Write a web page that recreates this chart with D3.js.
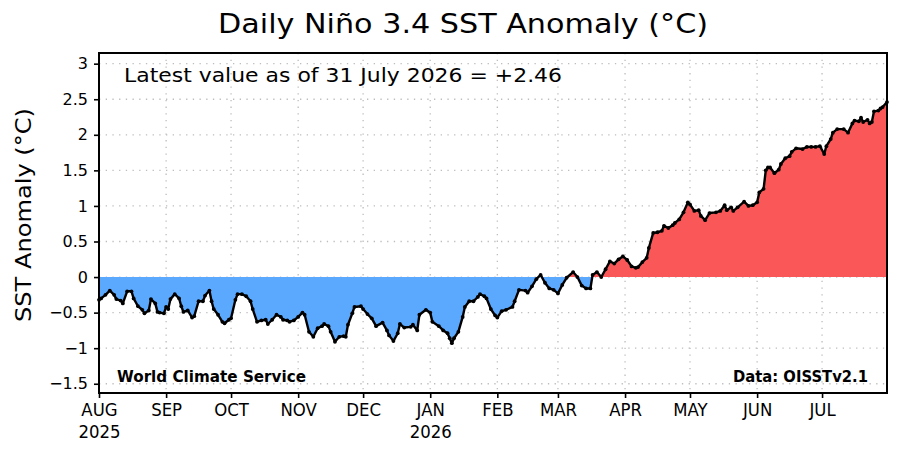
<!DOCTYPE html>
<html>
<head>
<meta charset="utf-8">
<script src="https://cdn.jsdelivr.net/npm/d3@7"></script>
<style>
  body { margin: 0; background: #fff; }
  text { font-family: "DejaVu Sans", sans-serif; fill: #000; }
</style>
</head>
<body>
<div id="chart"></div>
<script>
// daily Nino 3.4 values (about every other day)
const dates = [
  "2025-08-01","2025-08-02","2025-08-04","2025-08-06","2025-08-08","2025-08-09","2025-08-11","2025-08-12",
  "2025-08-14","2025-08-16","2025-08-17","2025-08-19","2025-08-21","2025-08-22","2025-08-24","2025-08-25",
  "2025-08-27","2025-08-28","2025-08-29","2025-08-31","2025-09-01","2025-09-02","2025-09-03","2025-09-05",
  "2025-09-07","2025-09-08","2025-09-09","2025-09-11","2025-09-13","2025-09-14","2025-09-16","2025-09-18",
  "2025-09-19","2025-09-21","2025-09-22","2025-09-23","2025-09-25","2025-09-27","2025-09-28","2025-09-30",
  "2025-10-01","2025-10-03","2025-10-04","2025-10-06","2025-10-08","2025-10-10","2025-10-11","2025-10-13",
  "2025-10-15","2025-10-17","2025-10-18","2025-10-20","2025-10-22","2025-10-24","2025-10-25","2025-10-27",
  "2025-10-28","2025-10-30","2025-11-01","2025-11-03","2025-11-04","2025-11-06","2025-11-08","2025-11-10",
  "2025-11-12","2025-11-13","2025-11-15","2025-11-16","2025-11-18","2025-11-20","2025-11-22","2025-11-23",
  "2025-11-24","2025-11-26","2025-11-27","2025-11-30","2025-12-01","2025-12-03","2025-12-05","2025-12-07",
  "2025-12-10","2025-12-12","2025-12-13","2025-12-15","2025-12-17","2025-12-18","2025-12-20","2025-12-23",
  "2025-12-24","2025-12-26","2025-12-27","2025-12-30","2026-01-01","2026-01-02","2026-01-05","2026-01-07",
  "2026-01-09","2026-01-10","2026-01-11","2026-01-12","2026-01-14","2026-01-16","2026-01-17","2026-01-19",
  "2026-01-21","2026-01-23","2026-01-24","2026-01-26","2026-01-27","2026-01-29","2026-01-31","2026-02-01",
  "2026-02-03","2026-02-05","2026-02-08","2026-02-09","2026-02-11","2026-02-14","2026-02-15","2026-02-17",
  "2026-02-19","2026-02-21","2026-02-23","2026-02-25","2026-02-27","2026-03-01","2026-03-03","2026-03-05",
  "2026-03-08","2026-03-10","2026-03-12","2026-03-14","2026-03-16","2026-03-17","2026-03-19","2026-03-21",
  "2026-03-23","2026-03-25","2026-03-27","2026-03-29","2026-03-31","2026-04-02","2026-04-04","2026-04-06",
  "2026-04-07","2026-04-09","2026-04-11","2026-04-12","2026-04-14","2026-04-16","2026-04-18","2026-04-19",
  "2026-04-21","2026-04-23","2026-04-24","2026-04-26","2026-04-28","2026-04-30","2026-05-01","2026-05-03",
  "2026-05-05","2026-05-06","2026-05-08","2026-05-10","2026-05-13","2026-05-15","2026-05-17","2026-05-18",
  "2026-05-20","2026-05-21","2026-05-23","2026-05-26","2026-05-28","2026-05-30","2026-06-01","2026-06-02",
  "2026-06-04","2026-06-05","2026-06-06","2026-06-07","2026-06-09","2026-06-11","2026-06-12","2026-06-14",
  "2026-06-16","2026-06-17","2026-06-19","2026-06-22","2026-06-24","2026-06-26","2026-06-28","2026-06-30",
  "2026-07-02","2026-07-03","2026-07-05","2026-07-06","2026-07-08","2026-07-11","2026-07-13","2026-07-15",
  "2026-07-16","2026-07-18","2026-07-19","2026-07-20","2026-07-22","2026-07-23","2026-07-24","2026-07-25",
  "2026-07-27","2026-07-28","2026-07-29","2026-07-31"
];
const anomaly = [
  -0.32,-0.30,-0.25,-0.19,-0.25,-0.31,-0.33,-0.37,
  -0.20,-0.20,-0.30,-0.41,-0.46,-0.51,-0.47,-0.31,
  -0.37,-0.49,-0.50,-0.51,-0.42,-0.45,-0.31,-0.24,
  -0.30,-0.41,-0.49,-0.47,-0.57,-0.55,-0.34,-0.34,
  -0.26,-0.19,-0.34,-0.45,-0.53,-0.63,-0.65,-0.60,
  -0.58,-0.32,-0.24,-0.24,-0.27,-0.34,-0.45,-0.63,
  -0.61,-0.60,-0.66,-0.60,-0.53,-0.56,-0.60,-0.61,
  -0.63,-0.61,-0.56,-0.50,-0.53,-0.77,-0.84,-0.72,
  -0.69,-0.66,-0.69,-0.77,-0.91,-0.84,-0.83,-0.84,
  -0.67,-0.51,-0.42,-0.41,-0.45,-0.52,-0.58,-0.69,
  -0.64,-0.75,-0.82,-0.90,-0.79,-0.66,-0.71,-0.70,
  -0.67,-0.75,-0.53,-0.46,-0.50,-0.63,-0.69,-0.75,
  -0.79,-0.86,-0.93,-0.86,-0.77,-0.56,-0.42,-0.34,
  -0.34,-0.28,-0.24,-0.27,-0.30,-0.45,-0.54,-0.57,
  -0.48,-0.46,-0.42,-0.34,-0.18,-0.19,-0.22,-0.13,
  -0.03,0.03,-0.08,-0.16,-0.18,-0.23,-0.11,-0.01,
  0.07,0.00,-0.12,-0.16,-0.16,0.03,0.07,0.00,
  0.11,0.22,0.19,0.25,0.29,0.24,0.15,0.13,
  0.14,0.21,0.27,0.41,0.62,0.63,0.65,0.72,
  0.69,0.73,0.76,0.81,0.91,1.05,1.02,0.93,
  0.94,0.86,0.80,0.90,0.91,0.93,1.01,0.94,
  0.98,0.93,0.98,1.06,1.00,1.01,1.05,1.19,
  1.24,1.50,1.54,1.54,1.46,1.51,1.59,1.67,
  1.70,1.76,1.81,1.80,1.83,1.83,1.83,1.84,
  1.73,1.84,1.94,2.03,2.08,2.08,2.03,2.16,
  2.20,2.19,2.24,2.18,2.21,2.16,2.18,2.33,
  2.34,2.37,2.39,2.46
];

const monthTicks = ["2025-08-01","2025-09-01","2025-10-01","2025-11-01","2025-12-01","2026-01-01",
                    "2026-02-01","2026-03-01","2026-04-01","2026-05-01","2026-06-01","2026-07-01"];
const monthLabels = ["AUG","SEP","OCT","NOV","DEC","JAN","FEB","MAR","APR","MAY","JUN","JUL"];
const yearLabels = ["2025","","","","","2026","","","","","",""];
const yTicks = [-1.5, -1, -0.5, 0, 0.5, 1, 1.5, 2, 2.5, 3];

// set the dimensions and margins of the graph
let margin = { top: 53, right: 13, bottom: 57, left: 99 },
    width = 900 - margin.left - margin.right,
    height = 450 - margin.top - margin.bottom;

const parse = d3.utcParse("%Y-%m-%d");
const data = dates.map((d, i) => ({ date: parse(d), value: anomaly[i] }));

let svg = d3.select("#chart")
    .append("svg")
    .attr("width", 900)
    .attr("height", 450);

let g = svg.append("g")
    .attr("transform", "translate(" + margin.left + "," + margin.top + ")");

let x = d3.scaleUtc()
    .domain([parse("2025-08-01"), parse("2026-07-31")])
    .range([0, width]);

let y = d3.scaleLinear()
    .domain([-1.63, 3.15])
    .range([height, 0]);

// dotted grid
g.append("g")
    .selectAll("line")
    .data(yTicks)
    .enter()
    .append("line")
    .attr("x1", 0).attr("x2", width)
    .attr("y1", d => y(d)).attr("y2", d => y(d))
    .attr("stroke", "#bdbdbd")
    .attr("stroke-width", 1.3)
    .attr("stroke-dasharray", "1.3,5.4");

g.append("g")
    .selectAll("line")
    .data(monthTicks.slice(1))
    .enter()
    .append("line")
    .attr("x1", d => x(parse(d))).attr("x2", d => x(parse(d)))
    .attr("y1", 0).attr("y2", height)
    .attr("stroke", "#bdbdbd")
    .attr("stroke-width", 1.3)
    .attr("stroke-dasharray", "1.3,5.4");

// fills above / below zero, clipped at y(0)
let defs = svg.append("defs");
defs.append("clipPath").attr("id", "above")
    .append("rect").attr("x", 0).attr("y", 0).attr("width", width).attr("height", y(0));
defs.append("clipPath").attr("id", "below")
    .append("rect").attr("x", 0).attr("y", y(0)).attr("width", width).attr("height", height - y(0));

let area = d3.area()
    .x(d => x(d.date))
    .y0(y(0))
    .y1(d => y(d.value));

g.append("path")
    .datum(data)
    .attr("clip-path", "url(#below)")
    .attr("d", area)
    .attr("fill", "#5aa9ff");

g.append("path")
    .datum(data)
    .attr("clip-path", "url(#above)")
    .attr("d", area)
    .attr("fill", "#fa5858");

// the line with small day markers
g.append("path")
    .datum(data)
    .attr("d", d3.line().x(d => x(d.date)).y(d => y(d.value)))
    .attr("fill", "none")
    .attr("stroke", "#000")
    .attr("stroke-width", 2.4)
    .attr("stroke-linejoin", "round");

g.append("g")
    .selectAll("circle")
    .data(data)
    .enter()
    .append("circle")
    .attr("cx", d => x(d.date))
    .attr("cy", d => y(d.value))
    .attr("r", 1.9)
    .attr("fill", "#000");

// axes
let yAxis = g.append("g")
    .call(d3.axisLeft(y)
        .tickValues(yTicks)
        .tickSize(5)
        .tickPadding(6)
        .tickFormat(d => (d < 0 ? "\u2212" : "") + Math.abs(d)));
yAxis.select(".domain").remove();
yAxis.selectAll("line").attr("stroke-width", 1.6);
yAxis.selectAll("text")
    .attr("font-size", "16px")
    .attr("font-family", "DejaVu Sans")
    .attr("fill", "#000");

let xAxis = g.append("g")
    .attr("transform", "translate(0," + height + ")")
    .call(d3.axisBottom(x)
        .tickValues(monthTicks.map(parse))
        .tickSize(5)
        .tickPadding(5)
        .tickFormat((d, i) => monthLabels[i]));
xAxis.select(".domain").remove();
xAxis.selectAll("line").attr("stroke-width", 1.6);
xAxis.selectAll("text")
    .attr("font-size", "18px")
    .attr("font-family", "DejaVu Sans")
    .attr("fill", "#000")
    .attr("transform", "scale(0.92,1)");

// second row: the year under AUG and JAN
xAxis.selectAll(".tick")
    .filter((d, i) => yearLabels[i] !== "")
    .append("text")
    .attr("y", 45)
    .attr("text-anchor", "middle")
    .attr("font-size", "18px")
    .attr("transform", "scale(0.92,1)")
    .text(d => yearLabels[monthTicks.map(parse).findIndex(t => +t === +d)]);

// frame
g.append("rect")
    .attr("x", 0).attr("y", 0)
    .attr("width", width).attr("height", height)
    .attr("fill", "none")
    .attr("stroke", "#000")
    .attr("stroke-width", 2);

// texts
svg.append("text")
    .attr("x", 218).attr("y", 33)
    .attr("font-size", "26px")
    .attr("textLength", 490)
    .attr("lengthAdjust", "spacingAndGlyphs")
    .text("Daily Niño 3.4 SST Anomaly (°C)");

svg.append("text")
    .attr("transform", "translate(31,215) rotate(-90)")
    .attr("text-anchor", "middle")
    .attr("font-size", "21px")
    .attr("textLength", 214)
    .attr("lengthAdjust", "spacingAndGlyphs")
    .text("SST Anomaly (°C)");

svg.append("text")
    .attr("x", 124).attr("y", 82)
    .attr("font-size", "19px")
    .attr("textLength", 438)
    .attr("lengthAdjust", "spacingAndGlyphs")
    .text("Latest value as of 31 July 2026 = +2.46");

svg.append("text")
    .attr("x", 117).attr("y", 382)
    .attr("font-size", "15.5px")
    .attr("font-weight", "bold")
    .attr("textLength", 189)
    .attr("lengthAdjust", "spacingAndGlyphs")
    .text("World Climate Service");

svg.append("text")
    .attr("x", 733).attr("y", 382)
    .attr("font-size", "15.5px")
    .attr("font-weight", "bold")
    .attr("textLength", 135)
    .attr("lengthAdjust", "spacingAndGlyphs")
    .text("Data: OISSTv2.1");
</script>
</body>
</html>
